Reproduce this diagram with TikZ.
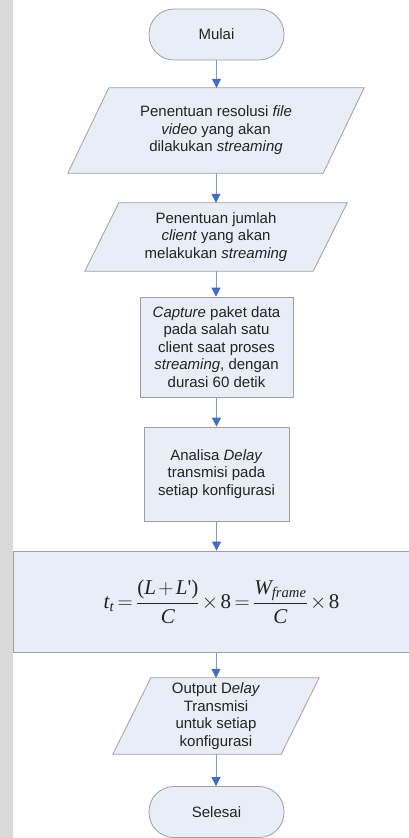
\documentclass[tikz,border=0pt]{standalone}
\usepackage{fontspec}
\usepackage{amsmath}
\usepackage{fix-cm}
\setmainfont{Liberation Sans}
\newfontfamily\tms{Liberation Serif}
\usetikzlibrary{arrows.meta,calc,backgrounds}
\definecolor{boxfill}{RGB}{232,237,247}
\definecolor{boxline}{RGB}{160,160,160}
\definecolor{flowline}{RGB}{125,155,205}
\definecolor{flowhead}{RGB}{65,110,190}
\definecolor{inktext}{RGB}{35,35,35}
\definecolor{stripgray}{RGB}{218,218,218}
% Times-like italic variables and upright figures for the formula
\newcommand{\mv}[1]{\text{\tms\itshape #1}}
\newcommand{\mr}[1]{\text{\tms #1}}
\begin{document}
\begin{tikzpicture}[x=1pt,y=-1pt,
  lbl/.style={font=\fontsize{15}{17.5}\selectfont, text=inktext, align=center, inner sep=0pt},
  terminal/.style={lbl, draw=boxline, fill=boxfill, rounded corners=25pt,
    minimum width=135pt, minimum height=51pt, line width=0.8pt},
  process/.style={lbl, draw=boxline, fill=boxfill, line width=0.8pt},
  iobox/.style={lbl},
  ioshape/.style={draw=boxline, fill=boxfill, line width=0.8pt, line join=miter},
  flow/.style={draw=flowline, line width=0.8pt,
    -{Triangle[width=9pt,length=9pt,color=flowhead]}}
]
\clip (0,0) rectangle (409,838);

% nodes
\node[terminal] (start) at (216.5,34.5) {Mulai};

\node[iobox, minimum width=255pt, minimum height=85pt] (res) at (216,130.5)
  {Penentuan resolusi \textit{file}\\\textit{video} yang akan\\dilakukan \textit{streaming}};

\node[iobox, minimum width=228pt, minimum height=68pt] (cli) at (216,237)
  {Penentuan jumlah\\\textit{client} yang akan\\melakukan \textit{streaming}};

\node[process, minimum width=153pt, minimum height=100pt] (cap) at (216.5,347)
  {\textit{Capture} paket data\\pada salah satu\\client saat proses\\\textit{streaming}, dengan\\durasi 60 detik};

\node[process, minimum width=145pt, minimum height=94pt] (ana) at (216.5,474)
  {Analisa \textit{Delay}\\transmisi pada\\setiap konfigurasi};

\node[process, minimum width=399pt, minimum height=101pt] (eq) at (212.5,601.5)
  {\fontsize{21}{25}\selectfont
   \medmuskip=2mu\thickmuskip=3mu
   \hspace*{18pt}$\mv{t}_{\mv{t}} = \dfrac{\mr{(}\mv{L}+\mv{L}\mr{')}}{\mv{C}}\times\mr{8}
     = \dfrac{\mv{W}_{\mv{frame}}}{\mv{C}}\times\mr{8}$};

\node[iobox, minimum width=168pt, minimum height=76pt] (out) at (216,716)
  {Output D\textit{elay}\\Transmisi\\untuk setiap\\konfigurasi};

\node[terminal] (stop) at (216.5,812) {Selesai};

% page ground, edge strip and parallelogram outlines behind the text
\begin{pgfonlayer}{background}
  \fill[white] (0,0) rectangle (409,838);
  \fill[stripgray] (0,0) rectangle (13,838);
  \foreach \n/\s in {res/20.5, cli/17, out/19}{
    \draw[ioshape] ($(\n.north west)+(\s,0)$) -- ($(\n.north east)+(\s,0)$)
      -- ($(\n.south east)+(-\s,0)$) -- ($(\n.south west)+(-\s,0)$) -- cycle;
  }
\end{pgfonlayer}

% connectors
\draw[flow] (start.south) -- (start.south |- res.north);
\draw[flow] (res.south) -- (res.south |- cli.north);
\draw[flow] (cli.south) -- (cli.south |- cap.north);
\draw[flow] (cap.south) -- (cap.south |- ana.north);
\draw[flow] (ana.south) -- (ana.south |- eq.north);
\draw[flow] (out.north |- eq.south) -- (out.north);
\draw[flow] (out.south) -- (out.south |- stop.north);
\end{tikzpicture}
\end{document}
